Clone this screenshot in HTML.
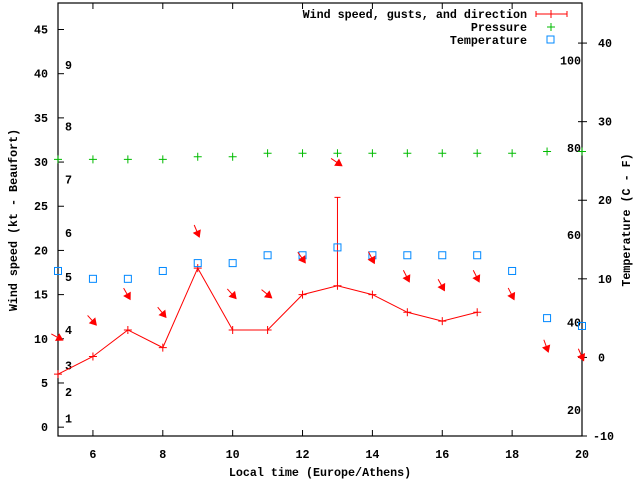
<!DOCTYPE html>
<html><head><meta charset="utf-8"><style>
html,body{margin:0;padding:0;background:#fff;}
svg{display:block;font-family:"Liberation Mono",monospace;font-weight:bold;font-size:11.7px;}
</style></head><body>
<svg id="chart" width="640" height="480" viewBox="0 0 640 480" xmlns="http://www.w3.org/2000/svg">
<g id="grid"></g>
<g id="marks"></g>
<text x="320" y="476" text-anchor="middle">Local time (Europe/Athens)</text>
<text transform="translate(17,220) rotate(-90)" text-anchor="middle">Wind speed (kt - Beaufort)</text>
<text transform="translate(630,220) rotate(-90)" text-anchor="middle">Temperature (C - F)</text>
<g>
<text x="527" y="18" text-anchor="end">Wind speed, gusts, and direction</text>
<text x="527" y="31" text-anchor="end">Pressure</text>
<text x="527" y="44" text-anchor="end">Temperature</text>
<g stroke="#f00" stroke-width="1">
<line x1="536" y1="14" x2="567" y2="14"/><line x1="536" y1="11" x2="536" y2="17"/><line x1="567" y1="11" x2="567" y2="17"/><line x1="551" y1="10" x2="551" y2="18"/>
</g>
<g stroke="#0b0" stroke-width="1"><line x1="547" y1="27" x2="555" y2="27"/><line x1="551" y1="23" x2="551" y2="31"/></g>
<rect x="547" y="36" width="7" height="7" fill="none" stroke="#08f" stroke-width="1"/>
</g>
</svg>
<script>
const hours = [5,6,7,8,9,10,11,12,13,14,15,16,17,18,19,20];
const windHours = [5,6,7,8,9,10,11,12,13,14,15,16,17];
const windSpeed = [6,8,11,9,18,11,11,15,16,15,13,12,13];
const gustHours = [13];
const gustLow = [16];
const gustHigh = [26];
const pressure = [30.3,30.3,30.3,30.3,30.6,30.6,31,31,31,31,31,31,31,31,31.2,31.2];
const temperature = [11,10,10,11,12,12,13,13,14,13,13,13,13,11,5,4];
const arrowLevel = [10.2,12.1,15.1,13.0,22.2,15.1,15.1,19.2,30.0,19.2,17.1,16.1,17.1,15.1,9.2,8.2];
const arrowAngle = [29,48,60,51,67,48,39,55,34,63,63,61,63,63,70,66];
const xTicks = [6,8,10,12,14,16,18,20];
const yTicks = [0,5,10,15,20,25,30,35,40,45];
const y2Ticks = [-10,0,10,20,30,40];
const beaufortLevels = [1,4,7,11,17,22,28,34,41];
const beaufortLabels = ["1","2","3","4","5","6","7","8","9"];
const fahrenheitTicks = [20,40,60,80,100];

const L=58,R=582,T=3,B=436;
const X=v=>L+(v-5)*(R-L)/15;
const Y=v=>B-(v+1)*(B-T)/49;
const Y2=v=>B-(v+10)*(B-T)/55.1;
const NS="http://www.w3.org/2000/svg";
function mk(tag,attrs,parent){const e=document.createElementNS(NS,tag);for(const k in attrs)e.setAttribute(k,attrs[k]);parent.appendChild(e);return e;}
const g=document.getElementById('grid'), m=document.getElementById('marks');

let e=mk('rect',{x:L,y:T,width:R-L,height:B-T,fill:'none',stroke:'#000','stroke-width':1.2},g);


xTicks.forEach(t=>{
  let l=mk('line',{x1:X(t),x2:X(t),y1:B,y2:B-6,stroke:'#000'},g);
  
  
  let l2=mk('line',{x1:X(t),x2:X(t),y1:T,y2:T+6,stroke:'#000'},g);
  
  
  let tx=mk('text',{x:X(t),y:458,'text-anchor':'middle'},g);tx.textContent=t;
  
  
});
yTicks.forEach(t=>{
  let l=mk('line',{x1:L,x2:L+6,y1:Y(t),y2:Y(t),stroke:'#000'},g);
  
  
  let tx=mk('text',{x:48,y:Y(t)+4,'text-anchor':'end'},g);tx.textContent=t;
  
  
});
y2Ticks.forEach(t=>{
  let l=mk('line',{x1:R-4,x2:R+5,y1:Y2(t),y2:Y2(t),stroke:'#000'},g);
  
  
  let tx=mk('text',{x:t<0?593:598,y:Y2(t)+4,'text-anchor':'start'},g);tx.textContent=t;
  
  
});
beaufortLevels.forEach((b,i)=>{
  let tx=mk('text',{x:65,y:Y(b)+4},g);tx.textContent=beaufortLabels[i];
  
  
});
fahrenheitTicks.forEach(f=>{
  let tx=mk('text',{x:581,y:Y2((f-32)*5/9)+4,'text-anchor':'end'},g);tx.textContent=f;
  
  
});

// wind line
let pl=mk('polyline',{points:windHours.map((h,i)=>X(h)+','+Y(windSpeed[i])).join(' '),fill:'none',stroke:'#f00','stroke-width':1},m);


windHours.forEach((h,i)=>{
  let p=mk('path',{d:`M${X(h)-4},${Y(windSpeed[i])}h8M${X(h)},${Y(windSpeed[i])-4}v8`,stroke:'#f00'},m);
  
  
});
gustHours.forEach((h,i)=>{
  let p=mk('path',{d:`M${X(h)},${Y(gustLow[i])}V${Y(gustHigh[i])}M${X(h)-3},${Y(gustHigh[i])}h6`,stroke:'#f00'},m);
  
  
});
hours.forEach((h,i)=>{
  const py=Y(pressure[i]),px=X(h);
  let p=mk('path',{d:`M${px-4},${py}h8M${px},${py-4}v8`,stroke:'#0b0'},m);
  
  
  let r=mk('rect',{x:px-3.5,y:Y2(temperature[i])-3.5,width:7,height:7,fill:'none',stroke:'#08f'},m);
  
  
  const a=arrowAngle[i]*Math.PI/180,cx=px-1,cy=Y(arrowLevel[i]);
  const dx=Math.cos(a)*6.5,dy=Math.sin(a)*6.5;
  const hx=cx+dx,hy=cy+dy,bx=cx+dx*0.1,by=cy+dy*0.1;
  const nx=-Math.sin(a)*3.5,ny=Math.cos(a)*3.5;
  let ar=mk('g',{},m);
  
  
  mk('line',{x1:cx-dx,y1:cy-dy,x2:hx,y2:hy,stroke:'#f00'},ar);
  mk('polygon',{points:`${hx},${hy} ${bx+nx},${by+ny} ${bx-nx},${by-ny}`,fill:'#f00',stroke:'#f00'},ar);
});
</script>
</body></html>
